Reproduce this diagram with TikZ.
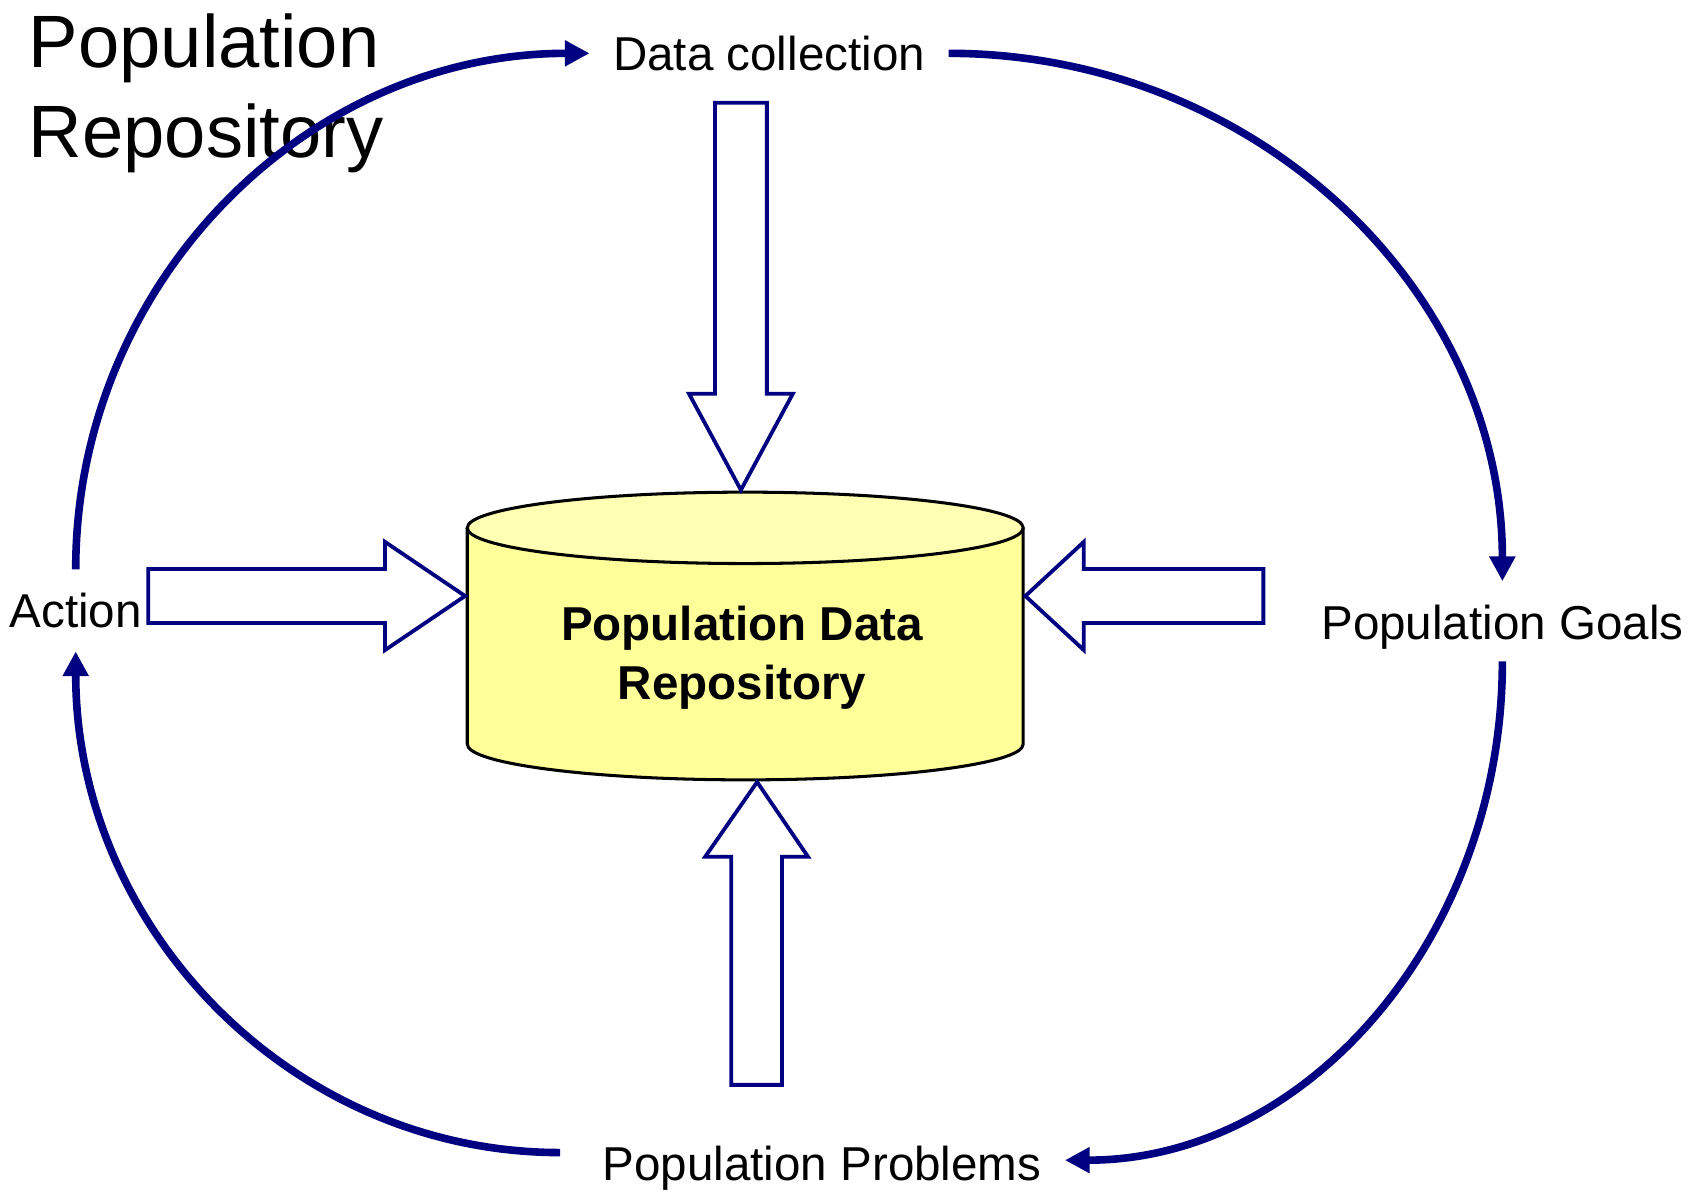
\documentclass[tikz,border=0pt]{standalone}
\usepackage{fontspec}
\setmainfont{Liberation Sans}
\usetikzlibrary{arrows.meta}
\definecolor{navy}{HTML}{000080}
\definecolor{cylbody}{HTML}{FFFF99}
\definecolor{cyltop}{HTML}{FFFFB3}
\begin{document}
\begin{tikzpicture}[x=0.01cm,y=-0.01cm,
    lbl/.style={font=\fontsize{12.5}{15}\selectfont,inner sep=6pt},
    cyc/.style={draw=navy,line width=2pt,-{Triangle[length=6.5pt,width=6.5pt]}},
    blockarr/.style={draw=navy,line width=1pt,fill=white}]
    \useasboundingbox (0,0) rectangle (1568,1102);

    \node[anchor=north west,align=left,inner sep=0pt,font=\fontsize{19.5}{23.6}\selectfont] (ttl) at (26,12) {Population\\Repository};

    % repository cylinder
    \fill[cylbody] (689,688) ellipse[x radius=257,y radius=33];
    \fill[cylbody] (432,488) rectangle (946,688);
    \draw[line width=0.8pt] (432,488) -- (432,688) .. controls (432,706) and (547,721) .. (689,721) .. controls (831,721) and (946,706) .. (946,688) -- (946,488);
    \filldraw[fill=cyltop,line width=0.8pt] (689,488) ellipse[x radius=257,y radius=33];
    \node[font=\fontsize{12.5}{15.4}\selectfont\bfseries,align=center] (repo) at (686,608) {Population Data\\Repository};

    \coordinate (intop) at (685,453);
    \coordinate (inleft) at (430,551);
    \coordinate (inright) at (948,551);
    \coordinate (inbot) at (700,723);

    \node[lbl,anchor=base] (data) at (711,65) {Data collection};
    \node[lbl,anchor=base] (act) at (70,580) {Action};
    \node[lbl,anchor=base] (goals) at (1389,591) {Population Goals};
    \node[lbl,anchor=base] (probs) at (760,1091) {Population Problems};

    % block arrows into the repository
    \draw[blockarr] (intop) -- ++(-48,-89) -- ++(24,0) -- ++(0,-269) -- ++(48,0) -- ++(0,269) -- ++(24,0) -- cycle;
    \draw[blockarr] (inleft) -- ++(-74,-50) -- ++(0,25) -- ++(-219,0) -- ++(0,50) -- ++(219,0) -- ++(0,25) -- cycle;
    \draw[blockarr] (inright) -- ++(54,-50) -- ++(0,25) -- ++(166,0) -- ++(0,50) -- ++(-166,0) -- ++(0,25) -- cycle;
    \draw[blockarr] (inbot) -- ++(-48,69) -- ++(24,0) -- ++(0,211) -- ++(47,0) -- ++(0,-211) -- ++(24,0) -- cycle;

    % the cycle
    \draw[cyc] (act.north) .. controls +(0,-264) and +(-263,0) .. (data.west);
    \draw[cyc] (data.east) .. controls +(283,0) and +(0,-270) .. (goals.north);
    \draw[cyc] ([yshift=3pt]goals.south) .. controls +(0,254) and +(224,0) .. ([yshift=2pt]probs.east);
    \draw[cyc] ([xshift=-5pt,yshift=4pt]probs.west) .. controls +(-248,0) and +(0,256) .. (act.south);
\end{tikzpicture}
\end{document}
